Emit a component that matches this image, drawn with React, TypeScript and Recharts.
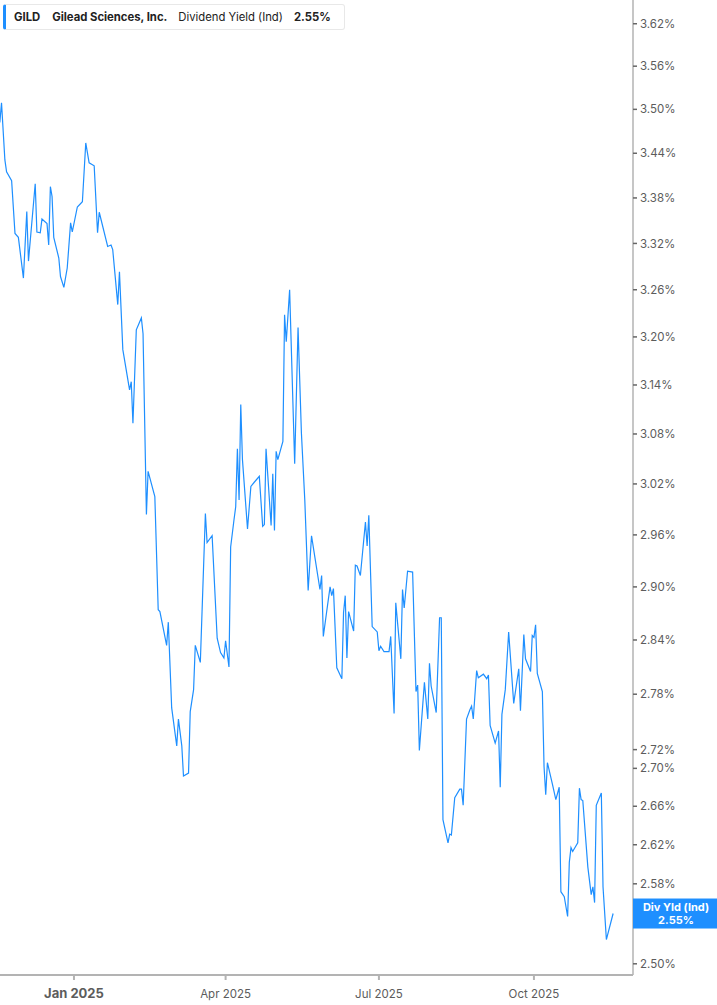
import { LineChart, Line, XAxis, YAxis, ReferenceLine } from 'recharts';

// trading days, counted from 1 Jan 2025
const dayOffsets = [
    -44, -43, -41, -40, -37, -35, -33, -30, -28, -27, -23, -22, -20, -19, -16, -15, -14, -13, -12, -9,
    -8, -6, -4, -2, -1, 2, 5, 7, 9, 12, 14, 15, 20, 22, 23, 26, 27, 29, 33, 34,
    35, 37, 40, 41, 43, 44, 48, 50, 51, 55, 56, 58, 61, 62, 64, 65, 68, 69, 71, 72,
    75, 78, 79, 82, 85, 87, 89, 90, 92, 93, 95, 96, 97, 98, 99, 100, 103, 105, 107, 110,
    112, 113, 114, 117, 118, 119, 120, 121, 124, 125, 126, 128, 131, 133, 135, 137, 139, 141, 143, 146,
    147, 148, 150, 152, 153, 154, 156, 159, 160, 161, 162, 163, 166, 167, 168, 170, 173, 174, 175, 177,
    180, 181, 182, 184, 187, 188, 190, 191, 194, 195, 196, 198, 201, 203, 204, 205, 208, 210, 211, 212,
    215, 217, 218, 219, 222, 223, 224, 226, 229, 230, 231, 233, 235, 236, 237, 239, 240, 243, 245, 246,
    247, 250, 252, 253, 254, 256, 258, 261, 264, 265, 267, 268, 271, 272, 273, 274, 275, 278, 279, 280,
    281, 284, 286, 288, 289, 291, 293, 294, 295, 296, 299, 300, 301, 302, 305, 307, 308, 309, 310, 313,
    314, 316, 320,
];

const yieldValues = [
    3.482, 3.509, 3.431, 3.415, 3.403, 3.333, 3.328, 3.275, 3.362, 3.297, 3.399, 3.335, 3.334, 3.352, 3.346, 3.318, 3.395, 3.382, 3.328, 3.301,
    3.277, 3.263, 3.288, 3.347, 3.335, 3.368, 3.375, 3.454, 3.427, 3.423, 3.334, 3.361, 3.316, 3.318, 3.312, 3.241, 3.283, 3.184, 3.134, 3.144,
    3.093, 3.209, 3.224, 3.204, 2.984, 3.035, 3.005, 2.874, 2.872, 2.834, 2.86, 2.765, 2.724, 2.753, 2.724, 2.692, 2.695, 2.761, 2.785, 2.834,
    2.815, 2.985, 2.951, 2.959, 2.842, 2.826, 2.82, 2.839, 2.81, 2.946, 2.978, 2.993, 3.062, 3.001, 3.116, 3.049, 2.967, 3.017, 3.022, 3.029,
    2.97, 2.972, 3.062, 2.971, 3.032, 2.965, 3.059, 3.049, 3.071, 3.228, 3.194, 3.26, 3.044, 3.212, 3.081, 3.001, 2.896, 2.959, 2.934, 2.897,
    2.913, 2.844, 2.872, 2.9, 2.89, 2.898, 2.809, 2.797, 2.871, 2.89, 2.82, 2.872, 2.85, 2.925, 2.924, 2.913, 2.975, 2.947, 2.983, 2.855,
    2.849, 2.828, 2.833, 2.827, 2.827, 2.844, 2.759, 2.882, 2.819, 2.897, 2.876, 2.918, 2.917, 2.783, 2.79, 2.719, 2.793, 2.753, 2.814, 2.789,
    2.76, 2.865, 2.865, 2.646, 2.622, 2.631, 2.63, 2.669, 2.678, 2.678, 2.661, 2.753, 2.763, 2.767, 2.753, 2.806, 2.798, 2.802, 2.797, 2.801,
    2.746, 2.727, 2.74, 2.68, 2.758, 2.785, 2.849, 2.77, 2.808, 2.762, 2.846, 2.819, 2.805, 2.845, 2.843, 2.857, 2.803, 2.783, 2.702, 2.672,
    2.706, 2.683, 2.667, 2.68, 2.572, 2.567, 2.547, 2.602, 2.617, 2.613, 2.622, 2.679, 2.667, 2.666, 2.597, 2.569, 2.577, 2.561, 2.661, 2.674,
    2.577, 2.524, 2.55,
];

const xTicks = [0, 90, 181, 273];
const xTickLabels = ['Jan 2025', 'Apr 2025', 'Jul 2025', 'Oct 2025'];

const yTicks = [
    2.5, 2.54, 2.58, 2.62, 2.66, 2.7, 2.72, 2.78, 2.84, 2.9, 2.96, 3.02, 3.08, 3.14, 3.2, 3.26, 3.32, 3.38,
    3.44, 3.5, 3.56, 3.62,
];

const data = dayOffsets.map((d, i) => ({ day: d, value: yieldValues[i] }));
const lastValue = yieldValues[yieldValues.length - 1];

const BLUE = '#1e8fff';
const FONT = 'Inter, "Noto Sans", sans-serif';

const DateTick = ({ x, y, payload }: any) => {
    const i = xTicks.indexOf(payload.value);
    const isYear = i === 0;
    return (
        <text
            x={x}
            y={y + 16}
            textAnchor="middle"
            fontFamily={FONT}
            fontSize={isYear ? 13 : 11.5}
            fontWeight={isYear ? 700 : 400}
            fill="#5c5c5c"
        >
            {xTickLabels[i]}
        </text>
    );
};

const ValueTag = ({ viewBox }: any) => {
    const x = viewBox.x + viewBox.width;
    const y = viewBox.y;
    return (
        <g>
            <rect x={x} y={y - 15} width={84} height={30} fill={BLUE} />
            <text x={x + 43} y={y - 3} textAnchor="middle" fontFamily={FONT} fontSize={11} fontWeight={700} fill="#fff">
                Div Yld (Ind)
            </text>
            <text x={x + 43} y={y + 10} textAnchor="middle" fontFamily={FONT} fontSize={11} fontWeight={700} fill="#fff">
                {lastValue.toFixed(2)}%
            </text>
        </g>
    );
};

export default function App() {
    return (
        <div style={{ position: 'relative', width: 717, height: 1005, fontFamily: FONT, background: '#fff' }}>
            <style>{'body{margin:0}'}</style>
            <LineChart width={717} height={1005} data={data} margin={{ top: 0, right: 0, bottom: 0, left: 0 }}>
                <XAxis
                    dataKey="day"
                    type="number"
                    domain={[-43.9, 331.8]}
                    allowDataOverflow
                    ticks={xTicks}
                    tick={<DateTick />}
                    height={30}
                    stroke="#b3b3b3"
                    strokeWidth={2}
                    tickSize={5}
                />
                <YAxis
                    orientation="right"
                    scale="log"
                    domain={[2.489, 3.654]}
                    allowDataOverflow
                    ticks={yTicks}
                    interval={0}
                    width={84}
                    tickSize={4}
                    tickMargin={3}
                    stroke="#b3b3b3"
                    strokeWidth={1.5}
                    tickLine={{ stroke: '#666' }}
                    tick={{ fontSize: 11.5, fill: '#5c5c5c', fontFamily: FONT }}
                    tickFormatter={(v: number) => v.toFixed(2) + '%'}
                />
                <Line
                    type="linear"
                    dataKey="value"
                    stroke={BLUE}
                    strokeWidth={1.2}
                    dot={false}
                    isAnimationActive={false}
                />
                <ReferenceLine y={lastValue} stroke="none" label={<ValueTag />} zIndex={2000} />
            </LineChart>
            <div
                style={{
                    position: 'absolute',
                    left: 3,
                    top: 4,
                    width: 338,
                    height: 24,
                    border: '1px solid #e8e8e8',
                    borderLeft: `3px solid ${BLUE}`,
                    borderRadius: 3,
                    background: '#fff',
                    display: 'flex',
                    alignItems: 'center',
                    fontSize: 11.3,
                    color: '#222',
                    whiteSpace: 'nowrap',
                }}
            >
                <span style={{ fontWeight: 700, marginLeft: 8 }}>GILD</span>
                <span style={{ fontWeight: 700, marginLeft: 12 }}>Gilead Sciences, Inc.</span>
                <span style={{ marginLeft: 11 }}>Dividend Yield (Ind)</span>
                <span style={{ fontWeight: 700, marginLeft: 11 }}>2.55%</span>
            </div>
        </div>
    );
}
